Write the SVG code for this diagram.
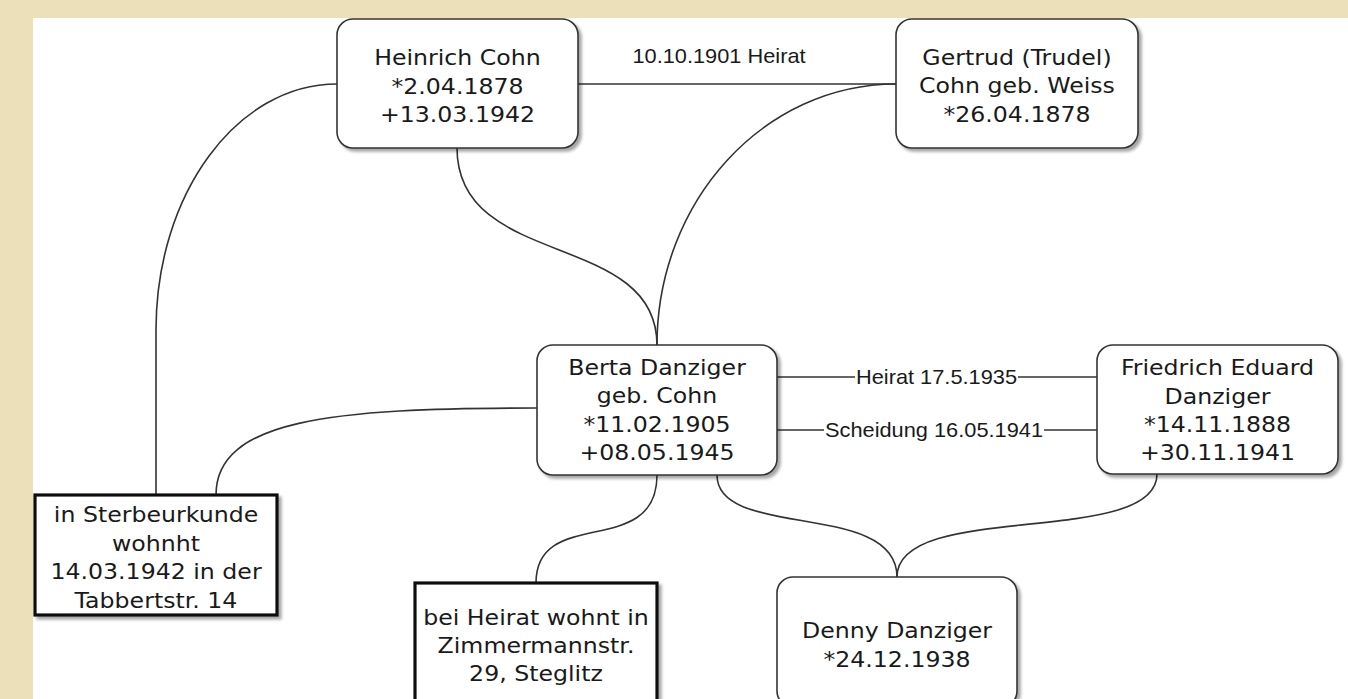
<svg xmlns="http://www.w3.org/2000/svg" width="1348" height="699" viewBox="0 0 1348 699">
<style>
.node{fill:#fff;stroke:#333;stroke-width:1.6}
.box{fill:#fff;stroke:#111;stroke-width:3.2}
.t{font-family:"DejaVu Sans",Verdana,sans-serif;font-size:21.7px;fill:#1a1a1a;text-anchor:middle}
.lbl{font-family:"Liberation Sans",Arial,sans-serif;font-size:20px;fill:#1a1a1a;text-anchor:middle}
.edge{fill:none;stroke:#333;stroke-width:1.6}
</style>
<defs>
<filter id="sh" x="-10%" y="-10%" width="125%" height="130%">
<feDropShadow dx="3" dy="3" stdDeviation="1.5" flood-color="#000" flood-opacity="0.35"/>
</filter>
</defs>
<rect x="0" y="0" width="1348" height="699" fill="#ece0ba"/>
<rect x="33" y="18" width="1315" height="681" fill="#fff"/>
<g id="connectors">
<path class="edge" d="M578,84 L896,84"/>
<path class="edge" d="M337,84 C237,84 156,194 156,330 L156,495"/>
<path class="edge" d="M537,408 C330,408 216,420 216,495"/>
<path class="edge" d="M457,148 C457,270 657,230 657,345"/>
<path class="edge" d="M896,84 C764,84 657,201 657,345"/>
<path class="edge" d="M777,377 L1097,377"/>
<path class="edge" d="M777,430 L1097,430"/>
<path class="edge" d="M657,475 C657,560 536,505 536,583"/>
<path class="edge" d="M717,475 C717,540 897,500 897,577"/>
<path class="edge" d="M1157,474 C1157,548 897,500 897,577"/>
<text class="lbl" transform="translate(719,0) scale(1.09,1)" x="0" y="63">10.10.1901 Heirat</text>
<rect x="855" y="365" width="163" height="24" fill="#fff"/>
<text class="lbl" transform="translate(936.5,0) scale(1.09,1)" x="0" y="384">Heirat 17.5.1935</text>
<rect x="824" y="418" width="220" height="24" fill="#fff"/>
<text class="lbl" transform="translate(934,0) scale(1.09,1)" x="0" y="437">Scheidung 16.05.1941</text>
</g>
<g id="heinrich">
<rect class="node" filter="url(#sh)" x="337" y="19" width="241" height="129" rx="16"/>
<text class="t" transform="translate(457.5,0) scale(1.09,1)" x="0" y="65">Heinrich Cohn</text>
<text class="t" transform="translate(457.5,0) scale(1.09,1)" x="0" y="94">*2.04.1878</text>
<text class="t" transform="translate(457.5,0) scale(1.09,1)" x="0" y="122">+13.03.1942</text>
</g>
<g id="gertrud">
<rect class="node" filter="url(#sh)" x="896" y="19" width="242" height="129" rx="16"/>
<text class="t" transform="translate(1017,0) scale(1.09,1)" x="0" y="65">Gertrud (Trudel)</text>
<text class="t" transform="translate(1017,0) scale(1.09,1)" x="0" y="93.5">Cohn geb. Weiss</text>
<text class="t" transform="translate(1017,0) scale(1.09,1)" x="0" y="122">*26.04.1878</text>
</g>
<g id="berta">
<rect class="node" filter="url(#sh)" x="537" y="345" width="240" height="130" rx="16"/>
<text class="t" transform="translate(657,0) scale(1.09,1)" x="0" y="375">Berta Danziger</text>
<text class="t" transform="translate(657,0) scale(1.09,1)" x="0" y="403.5">geb. Cohn</text>
<text class="t" transform="translate(657,0) scale(1.09,1)" x="0" y="432">*11.02.1905</text>
<text class="t" transform="translate(657,0) scale(1.09,1)" x="0" y="460.5">+08.05.1945</text>
</g>
<g id="friedrich">
<rect class="node" filter="url(#sh)" x="1097" y="345" width="241" height="129" rx="16"/>
<text class="t" transform="translate(1217.5,0) scale(1.09,1)" x="0" y="375.5">Friedrich Eduard</text>
<text class="t" transform="translate(1217.5,0) scale(1.09,1)" x="0" y="404">Danziger</text>
<text class="t" transform="translate(1217.5,0) scale(1.09,1)" x="0" y="432">*14.11.1888</text>
<text class="t" transform="translate(1217.5,0) scale(1.09,1)" x="0" y="460">+30.11.1941</text>
</g>
<g id="sterbeurkunde">
<rect class="box" filter="url(#sh)" x="35" y="495" width="242" height="120"/>
<text class="t" transform="translate(156,0) scale(1.09,1)" x="0" y="522.5">in Sterbeurkunde</text>
<text class="t" transform="translate(156,0) scale(1.09,1)" x="0" y="551">wohnht</text>
<text class="t" transform="translate(156,0) scale(1.09,1)" x="0" y="579.5">14.03.1942 in der</text>
<text class="t" transform="translate(156,0) scale(1.09,1)" x="0" y="608">Tabbertstr. 14</text>
</g>
<g id="heirat-wohnung">
<rect class="box" filter="url(#sh)" x="415" y="583" width="242" height="122"/>
<text class="t" transform="translate(536,0) scale(1.09,1)" x="0" y="625">bei Heirat wohnt in</text>
<text class="t" transform="translate(536,0) scale(1.09,1)" x="0" y="653">Zimmermannstr.</text>
<text class="t" transform="translate(536,0) scale(1.09,1)" x="0" y="681">29, Steglitz</text>
</g>
<g id="denny">
<rect class="node" filter="url(#sh)" x="777" y="577" width="240" height="130" rx="16"/>
<text class="t" transform="translate(897,0) scale(1.09,1)" x="0" y="638">Denny Danziger</text>
<text class="t" transform="translate(897,0) scale(1.09,1)" x="0" y="667">*24.12.1938</text>
</g>
</svg>
